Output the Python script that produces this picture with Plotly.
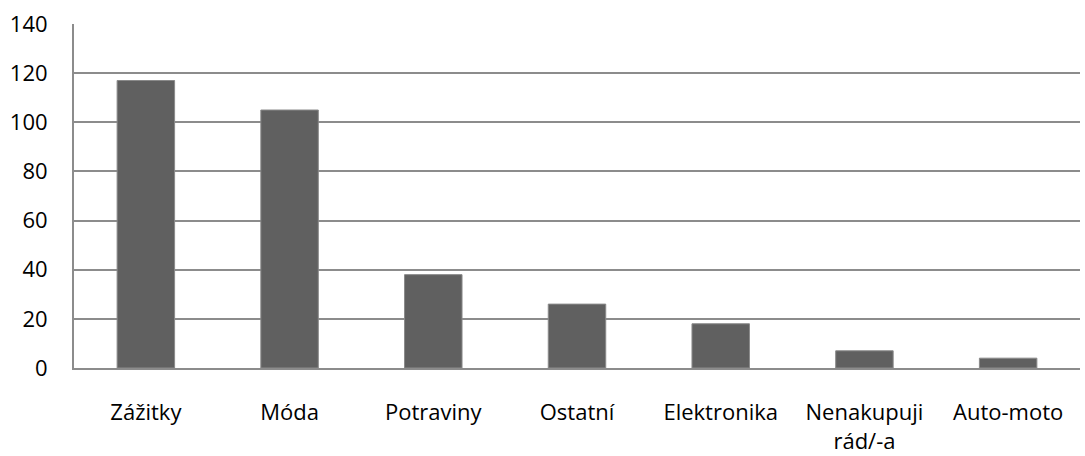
import plotly.graph_objects as go

categories = ["Zážitky", "Móda", "Potraviny", "Ostatní", "Elektronika", "Nenakupuji<br>rád/-a", "Auto-moto"]
counts = [117, 105, 38, 26, 18, 7, 4]
y_ticks = [0, 20, 40, 60, 80, 100, 120, 140]

fig = go.Figure(
    go.Bar(
        x=categories,
        y=counts,
        width=0.4,
        marker=dict(color="#606060", line=dict(color="#8a8a8a", width=1)),
    )
)

font_family = "Open Sans, Noto Sans, sans-serif"

fig.update_layout(
    width=1085,
    height=456,
    margin=dict(l=74, r=5, t=24, b=88),
    paper_bgcolor="white",
    plot_bgcolor="white",
    showlegend=False,
    font=dict(family=font_family, size=22, color="#000000"),
    bargap=0.6,
)

fig.update_yaxes(
    range=[0, 140],
    tickvals=y_ticks,
    showgrid=True,
    gridcolor="#8c8c8c",
    gridwidth=2,
    showline=True,
    linecolor="#8c8c8c",
    linewidth=2,
    zeroline=False,
    ticks="",
    ticklabelstandoff=20,
    tickfont=dict(size=22),
    automargin=False,
    fixedrange=True,
)

fig.update_xaxes(
    showline=True,
    linecolor="#8c8c8c",
    linewidth=2,
    showgrid=False,
    ticks="",
    ticklabelstandoff=24,
    tickfont=dict(size=22),
    automargin=False,
    fixedrange=True,
)

fig.write_html("out.html")
